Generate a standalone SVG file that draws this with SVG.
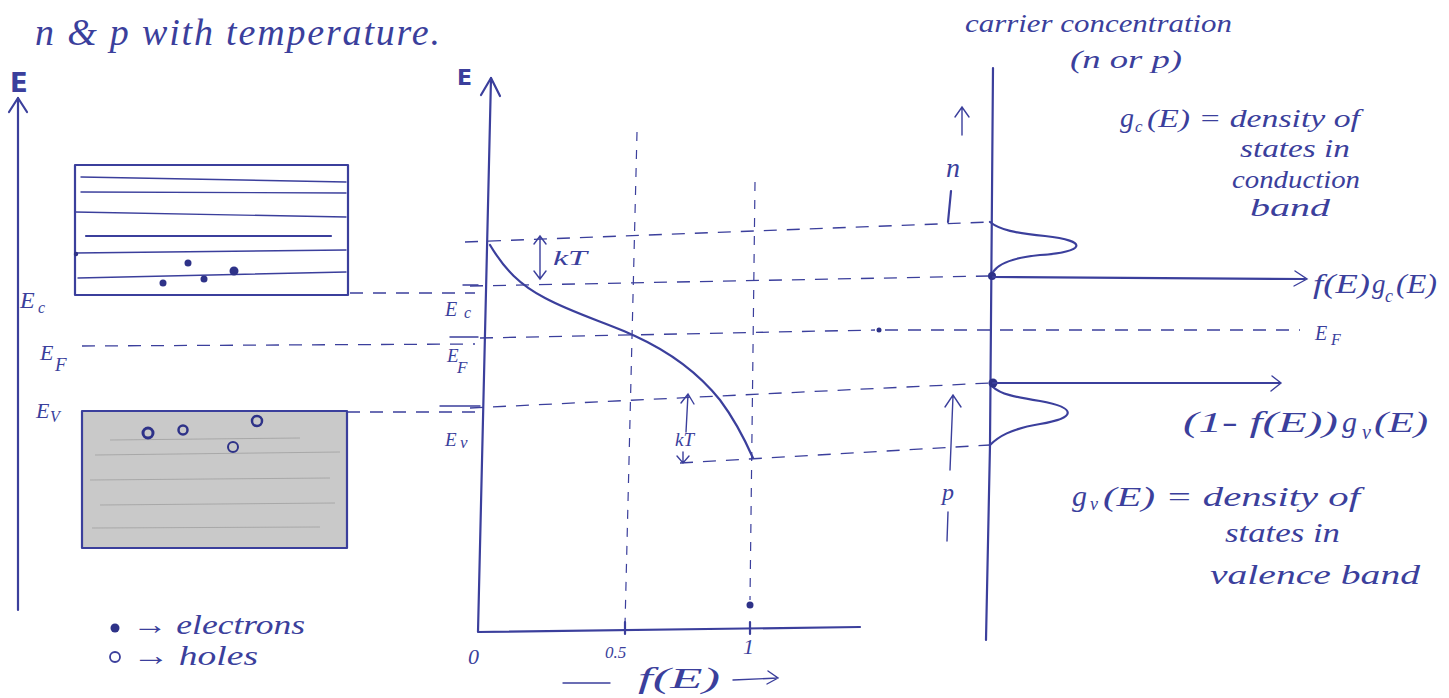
<svg xmlns="http://www.w3.org/2000/svg" width="1449" height="698" viewBox="0 0 1449 698">
<defs>
<style>
.ink{stroke:#3b3f9c;fill:none;stroke-width:2.2;stroke-linecap:round;stroke-linejoin:round}
.thin{stroke:#3b3f9c;fill:none;stroke-width:1.4;stroke-linecap:round}
.dash{stroke:#3b3f9c;fill:none;stroke-width:1.3;stroke-dasharray:13 10}
.vdash{stroke:#3b3f9c;fill:none;stroke-width:1.2;stroke-dasharray:9 9}
.t{fill:#3b3f9c;font-family:"Liberation Serif",serif;font-style:italic}
.s{fill:#3b3f9c;font-family:"DejaVu Sans",sans-serif}
.dot{fill:#2e3288}
</style>
</defs>
<rect x="0" y="0" width="1449" height="698" fill="#ffffff"/>

<g id="title">
<text class="t" x="35" y="45" font-size="38" textLength="405" lengthAdjust="spacing">n &amp; p with temperature.</text>
</g>

<g id="band-diagram">
<text class="s" x="10" y="92" font-size="26" font-weight="bold">E</text>
<path class="ink" d="M18,98 L18,610"/>
<path class="ink" d="M9,112 L18,98 L27,112"/>
<g id="conduction-band">
<rect class="ink" x="75" y="165" width="273" height="130"/>
<path class="thin" d="M81,177 L346,182"/>
<path class="thin" d="M81,192 L346,193"/>
<path class="thin" d="M75,212 L346,217"/>
<path class="ink" d="M86,236 L331,236"/>
<path class="thin" d="M75,253 L346,250"/>
<path class="thin" d="M78,278 L346,272"/>
<circle class="dot" cx="163" cy="283" r="3.5"/>
<circle class="dot" cx="188" cy="263" r="3.5"/>
<circle class="dot" cx="204" cy="279" r="3.5"/>
<circle class="dot" cx="234" cy="271" r="4.5"/>
<circle class="dot" cx="76" cy="254" r="2.2"/>
</g>
<g id="valence-band">
<rect x="82" y="411" width="265" height="137" fill="#c9c9c9"/>
<path d="M95,455 L340,452 M90,480 L330,478 M100,505 L335,503 M92,528 L320,527 M110,440 L300,438" stroke="#a8a8a8" stroke-width="1"/>
<rect class="ink" x="82" y="411" width="265" height="137"/>
<circle cx="148" cy="433" r="5" fill="none" stroke="#2e3288" stroke-width="3"/>
<circle cx="183" cy="430" r="4.5" fill="none" stroke="#2e3288" stroke-width="2.5"/>
<circle cx="257" cy="421" r="5" fill="none" stroke="#2e3288" stroke-width="2.5"/>
<circle cx="233" cy="447" r="5" fill="none" stroke="#2e3288" stroke-width="2"/>
</g>
<text class="t" x="20" y="308" font-size="24">E</text><text class="t" x="38" y="313" font-size="16">c</text>
<text class="t" x="40" y="360" font-size="22">E</text><text class="t" x="55" y="371" font-size="19">F</text>
<text class="t" x="36" y="418" font-size="22">E</text><text class="t" x="50" y="422" font-size="16">V</text>
</g>

<g id="fermi-plot">
<text class="s" x="457" y="85" font-size="22" font-weight="bold">E</text>
<path class="ink" d="M491,78 L478,632 L860,627"/>
<path class="ink" d="M481,95 L491,78 L500,96"/>
<path class="ink" d="M625,622 L625,634 M750,622 L750,634"/>
<path class="vdash" d="M637,132 L625,625"/>
<path class="vdash" d="M755,182 L750,600"/>
<circle class="dot" cx="750" cy="605" r="3.5"/>
<path class="ink" d="M490,245 C505,270 520,285 545,298 C575,314 610,324 635,336 C670,352 700,375 720,400 C735,420 745,440 753,458"/>
<path class="thin" d="M463,285 L478,285 M450,337 L478,337 M440,406 L480,406"/>
<path class="thin" d="M540,236 L540,279 M534,244 L540,236 L546,244 M534,271 L540,279 L546,271"/>
<text class="t" x="553" y="265" font-size="22" textLength="34" lengthAdjust="spacingAndGlyphs">kT</text>
<path class="thin" d="M686,432 L688,394 M681,403 L688,394 L694,404"/>
<path class="thin" d="M683,452 L683,463 M677,456 L683,463 L689,456"/>
<text class="t" x="675" y="446" font-size="19">kT</text>
<text class="t" x="445" y="316" font-size="20">E</text><text class="t" x="464" y="318" font-size="16">c</text>
<text class="t" x="447" y="362" font-size="19">E</text><text class="t" x="457" y="373" font-size="17">F</text>
<text class="t" x="445" y="446" font-size="19">E</text><text class="t" x="460" y="448" font-size="17">v</text>
<text class="t" x="468" y="664" font-size="22">0</text>
<text class="t" x="605" y="658" font-size="17">0.5</text>
<text class="t" x="743" y="654" font-size="22">1</text>
<path class="thin" d="M563,683 L610,683"/>
<text class="t" x="638" y="688" font-size="30" textLength="82" lengthAdjust="spacingAndGlyphs">f(E)</text>
<path class="thin" d="M733,680 L778,678 M768,671 L778,678 L767,684"/>
</g>

<g id="connectors">
<path class="dash" d="M350,293 L475,293"/>
<path class="dash" d="M82,346 L475,344"/>
<path class="dash" d="M347,412 L480,412"/>
<path class="dash" d="M465,242 L990,222"/>
<path class="dash" d="M470,286 L990,276"/>
<path class="dash" d="M480,338 L875,330"/>
<path class="dash" d="M885,330 L1300,330"/>
<path class="dash" d="M470,408 L990,383"/>
<path class="dash" d="M680,463 L990,445"/>
</g>

<g id="carrier-plot">
<text class="t" x="965" y="32" font-size="26" textLength="267" lengthAdjust="spacingAndGlyphs">carrier concentration</text>
<text class="t" x="1070" y="68" font-size="26" textLength="112" lengthAdjust="spacingAndGlyphs">(n or p)</text>
<path class="ink" d="M993,68 L990,445 L986,640"/>
<path class="ink" d="M990,222 C1000,230 1015,233 1045,236 C1090,241 1085,252 1040,255 C1010,258 998,264 993,272"/>
<path class="ink" d="M993,387 C1000,394 1015,397 1040,401 C1078,408 1076,418 1040,424 C1010,429 998,437 990,445"/>
<circle class="dot" cx="992" cy="276" r="4"/>
<circle class="dot" cx="993" cy="383" r="4.5"/>
<circle class="dot" cx="879" cy="330" r="2.5"/>
<path class="ink" d="M993,277 L1305,279"/>
<path class="thin" d="M1295,271 L1307,279 L1294,286"/>
<path class="ink" d="M993,383 L1280,383"/>
<path class="thin" d="M1272,376 L1281,383 L1271,391"/>
<text class="t" x="1313" y="293" font-size="27" textLength="57" lengthAdjust="spacingAndGlyphs">f(E)</text>
<text class="t" x="1372" y="293" font-size="27">g</text>
<text class="t" x="1385" y="302" font-size="18">c</text>
<text class="t" x="1396" y="293" font-size="27" textLength="41" lengthAdjust="spacingAndGlyphs">(E)</text>
<text class="t" x="1315" y="340" font-size="20">E</text><text class="t" x="1331" y="345" font-size="16">F</text>
<text class="t" x="1183" y="432" font-size="30" textLength="155" lengthAdjust="spacingAndGlyphs">(1- f(E))</text>
<text class="t" x="1342" y="432" font-size="30">g</text>
<text class="t" x="1362" y="439" font-size="20">v</text>
<text class="t" x="1374" y="432" font-size="30" textLength="54" lengthAdjust="spacingAndGlyphs">(E)</text>
<path class="thin" d="M962,135 L962,108 M955,117 L962,107 L969,117"/>
<text class="t" x="946" y="177" font-size="28">n</text>
<path class="ink" d="M951,191 L948,222"/>
<path class="thin" d="M950,470 L953,396 M945,407 L953,395 L961,407"/>
<text class="t" x="942" y="500" font-size="24">p</text>
<path class="thin" d="M948,512 L947,541"/>
<text class="t" x="1120" y="127" font-size="28">g</text>
<text class="t" x="1135" y="132" font-size="17">c</text>
<text class="t" x="1147" y="127" font-size="26" textLength="213" lengthAdjust="spacingAndGlyphs">(E) = density of</text>
<text class="t" x="1240" y="157" font-size="26" textLength="110" lengthAdjust="spacingAndGlyphs">states in</text>
<text class="t" x="1232" y="188" font-size="26" textLength="128" lengthAdjust="spacingAndGlyphs">conduction</text>
<text class="t" x="1250" y="216" font-size="26" textLength="80" lengthAdjust="spacingAndGlyphs">band</text>
<text class="t" x="1072" y="506" font-size="30">g</text>
<text class="t" x="1090" y="510" font-size="18">v</text>
<text class="t" x="1103" y="506" font-size="28" textLength="257" lengthAdjust="spacingAndGlyphs">(E) = density of</text>
<text class="t" x="1225" y="542" font-size="28" textLength="115" lengthAdjust="spacingAndGlyphs">states in</text>
<text class="t" x="1210" y="584" font-size="28" textLength="210" lengthAdjust="spacingAndGlyphs">valence band</text>
</g>

<g id="legend">
<circle class="dot" cx="115" cy="628" r="4.5"/>
<text class="t" x="132" y="634" font-size="28" textLength="173" lengthAdjust="spacingAndGlyphs">→ electrons</text>
<circle cx="115" cy="657" r="5" fill="none" stroke="#3b3f9c" stroke-width="1.8"/>
<text class="t" x="132" y="665" font-size="28" textLength="126" lengthAdjust="spacingAndGlyphs">→ holes</text>
</g>
</svg>
